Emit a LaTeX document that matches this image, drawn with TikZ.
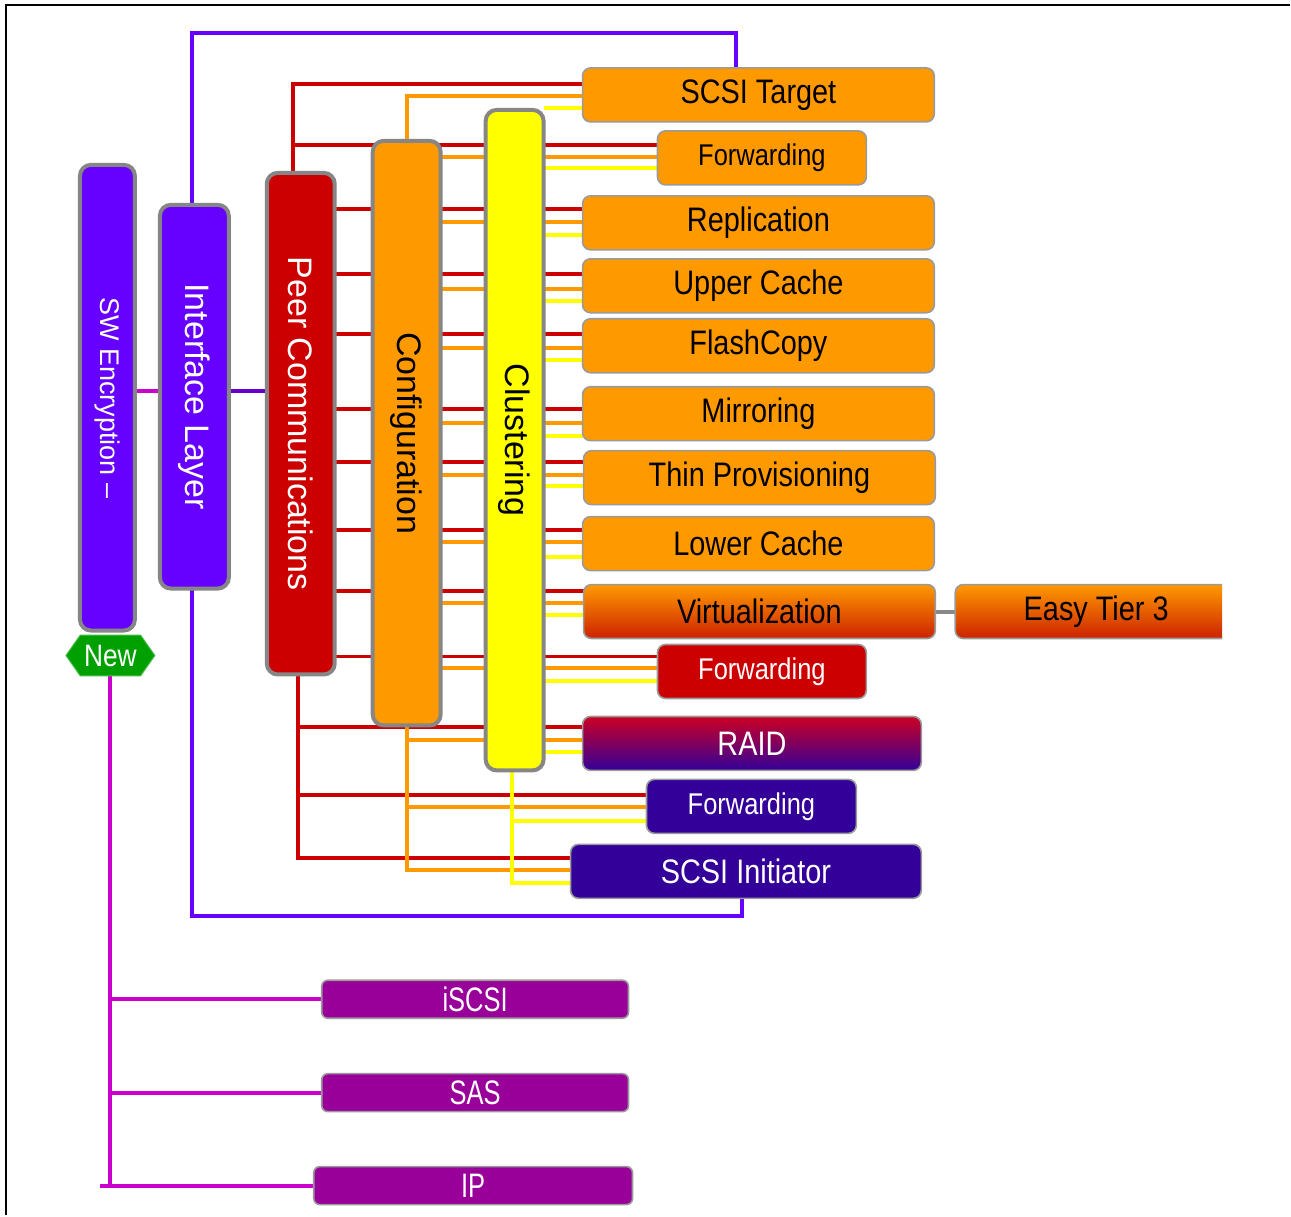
\documentclass[tikz,border=0pt]{standalone}
\usepackage{fontspec}
\usepackage{graphicx}
\setmainfont{Liberation Sans}
\newfontfamily\narrowfont[FakeStretch=0.85]{Liberation Sans}
\newfontfamily\narrowerfont[FakeStretch=0.75]{Liberation Sans}
\usetikzlibrary{calc,backgrounds,shapes.symbols}

\definecolor{barGray}{HTML}{868686}
\definecolor{boxGray}{HTML}{9A9A9A}
\definecolor{cViolet}{HTML}{6600FF}
\definecolor{cLink}{HTML}{6600CC}
\definecolor{cRed}{HTML}{CC0000}
\definecolor{cOrange}{HTML}{FF9900}
\definecolor{cYellow}{HTML}{FFFF00}
\definecolor{cIndigo}{HTML}{330099}
\definecolor{cPurple}{HTML}{990099}
\definecolor{cMagenta}{HTML}{CC00CC}
\definecolor{cGreen}{HTML}{00A000}
\definecolor{cDeepRed}{HTML}{CC2200}
\definecolor{cRaidTop}{HTML}{CC0022}
\definecolor{cLinkGray}{HTML}{888888}

\newcommand\boxfont{\narrowfont\fontsize{34}{40}\selectfont}
\newcommand\fwdfont{\narrowfont\fontsize{30}{36}\selectfont}
\newcommand\portfont{\narrowerfont\fontsize{34}{38}\selectfont}
\newcommand\barfont{\fontsize{34}{40}\selectfont}
\newcommand\vtext[1]{\rotatebox{-90}{#1}}

\begin{document}
\begin{tikzpicture}[x=1pt,y=-1pt,
  bar/.style={draw=barGray, line width=4pt, rounded corners=11pt,
    inner sep=0pt, outer sep=0pt, font=\barfont},
  box/.style={draw=boxGray, line width=1.6pt, rounded corners=8pt,
    inner sep=0pt, outer sep=0pt, minimum height=54pt, font=\boxfont},
  orangebox/.style={box, fill=cOrange, text=black},
  fwdbox/.style={box, minimum width=209pt, font=\fwdfont},
  portbox/.style={box, fill=cPurple, text=white, minimum height=38pt,
    rounded corners=6pt, font=\portfont},
  wire/.style={line width=4pt},
  rl/.style={wire, draw=cRed},
  ol/.style={wire, draw=cOrange},
  yl/.style={wire, draw=cYellow},
  vl/.style={wire, draw=cViolet},
  ml/.style={wire, draw=cMagenta},
  ll/.style={wire, draw=cLink},
  gl/.style={wire, draw=cLinkGray}]

% ---- vertical layer bars ----
\node[bar, fill=cViolet, text=white, minimum width=55pt, minimum height=466pt,
  font=\fontsize{27}{32}\selectfont] (sw) at (107.5,398) {\vtext{SW Encryption –}};
\node[bar, fill=cViolet, text=white, minimum width=69pt, minimum height=384pt]
  (intf) at (194.5,397) {\vtext{Interface Layer}};
\node[bar, fill=cRed, text=white, minimum width=68pt, minimum height=502pt]
  (peer) at (301,424) {\vtext{Peer Communications}};
\node[bar, fill=cOrange, text=black, minimum width=68pt, minimum height=585pt]
  (conf) at (407,433.5) {\vtext{Configuration}};
\node[bar, fill=cYellow, text=black, minimum width=58pt, minimum height=661pt]
  (clu) at (515,440.5) {\vtext{Clustering}};

% ---- "New" tag ----
\node[shape=signal, signal to=east and west, signal pointer angle=110,
  fill=cGreen, draw=cGreen!70!white, line width=1pt, text=white,
  minimum width=89pt, minimum height=41pt, inner sep=0pt,
  font=\narrowfont\fontsize{31}{36}\selectfont] (new) at (110.5,656) {New};

% ---- component boxes ----
\node[orangebox, minimum width=352pt] (scsit) at (759,95) {SCSI Target};
\node[orangebox, fwdbox] (fwd1) at (762.5,158) {Forwarding};
\node[orangebox, minimum width=352pt] (repl) at (759,223) {Replication};
\node[orangebox, minimum width=352pt] (upc) at (759,286) {Upper Cache};
\node[orangebox, minimum width=352pt] (flash) at (759,346) {FlashCopy};
\node[orangebox, minimum width=352pt] (mirr) at (759,414) {Mirroring};
\node[orangebox, minimum width=352pt] (thin) at (760,478) {Thin Provisioning};
\node[orangebox, minimum width=352pt] (lowc) at (759,544) {Lower Cache};
\node[box, top color=cOrange, bottom color=cDeepRed, minimum width=352pt]
  (virt) at (760,612) {Virtualization};
\begin{scope}
  \clip (940,560) rectangle (1223,660);
  \node[box, top color=cOrange, bottom color=cDeepRed, minimum width=282pt]
    (easy) at (1097,612) {Easy Tier 3};
\end{scope}
\node[box, fwdbox, fill=cRed, text=white] (fwd2) at (762.5,672) {Forwarding};
\node[box, top color=cRaidTop, bottom color=cIndigo, text=white,
  minimum width=339pt] (raid) at (752.5,744) {RAID};
\node[box, fwdbox, fill=cIndigo, text=white, minimum width=210pt]
  (fwd3) at (752,807) {Forwarding};
\node[box, fill=cIndigo, text=white, minimum width=351pt]
  (scsii) at (746.5,872) {SCSI Initiator};

% ---- protocol boxes ----
\node[portbox, minimum width=307pt] (iscsi) at (475.5,1000) {iSCSI};
\node[portbox, minimum width=307pt] (sas) at (475.5,1093.5) {SAS};
\node[portbox, minimum width=319pt] (ip) at (473.5,1186.5) {IP};

% ---- wiring, drawn behind the bars and boxes ----
\begin{scope}[on background layer]
  \fill[white] (0,0) rectangle (1291,1216);
  \draw[black, line width=2pt] (6,1216) -- (6,5) -- (1291,5);

  % tap points on the left side of every component box
  \foreach \b/\r/\o/\y in {scsit/16/28/40, fwd1/14/26/37, repl/13/26/39,
      upc/15/30/42, flash/15/29/41, mirr/22/36/49, thin/11/24/35,
      lowc/13/25/40, virt/6/18/30, fwd2/12/24/37, raid/11/24/36,
      fwd3/16/28/42, scsii/14/26/39} {
    \coordinate (\b-r) at ($(\b.north west)+(0,\r)$);
    \coordinate (\b-o) at ($(\b.north west)+(0,\o)$);
    \coordinate (\b-y) at ($(\b.north west)+(0,\y)$);
  }

  % Peer Communications (red)
  \coordinate (ptop) at ($(peer.north)+(-8,0)$);
  \coordinate (pbot) at ($(peer.south)+(-3,0)$);
  \draw[rl] (ptop) |- (scsit-r);
  \draw[rl] (ptop |- fwd1-r) -- (fwd1-r);
  \foreach \b in {repl,upc,flash,mirr,thin,lowc,virt,fwd2}
    \draw[rl] (peer.east |- \b-r) -- (\b-r);
  \draw[rl] (pbot) |- (scsii-r);
  \draw[rl] (pbot |- raid-r) -- (raid-r);
  \draw[rl] (pbot |- fwd3-r) -- (fwd3-r);

  % Configuration (orange)
  \draw[ol] (conf.north) |- (scsit-o);
  \foreach \b in {fwd1,repl,upc,flash,mirr,thin,lowc,virt,fwd2}
    \draw[ol] (conf.east |- \b-o) -- (\b-o);
  \draw[ol] (conf.south) |- (scsii-o);
  \draw[ol] (conf.south |- raid-o) -- (raid-o);
  \draw[ol] (conf.south |- fwd3-o) -- (fwd3-o);

  % Clustering (yellow)
  \foreach \b in {scsit,fwd1,repl,upc,flash,mirr,thin,lowc,virt,fwd2,raid}
    \draw[yl] (clu.east |- \b-y) -- (\b-y);
  \coordinate (cbot) at ($(clu.south)+(-3,0)$);
  \draw[yl] (cbot) |- (scsii-y);
  \draw[yl] (cbot |- fwd3-y) -- (fwd3-y);

  % Interface Layer (violet) frames the stack
  \coordinate (itop) at ($(intf.north)+(-2,0)$);
  \coordinate (ibot) at ($(intf.south)+(-2,0)$);
  \coordinate (stop) at ($(scsit.north)+(-22,0)$);
  \coordinate (sbot) at ($(scsii.south)+(-4,0)$);
  \coordinate (vtop) at ($(stop)+(0,-35)$);
  \coordinate (vbot) at ($(sbot)+(0,18)$);
  \draw[vl] (itop) |- (vtop) -- (stop);
  \draw[vl] (ibot) |- (vbot) -- (sbot);

  % side links between the layer bars
  \coordinate (lnk) at (0,391);
  \draw[ml] (sw.east |- lnk) -- (intf.west |- lnk);
  \draw[ll] (intf.east |- lnk) -- (peer.west |- lnk);

  % Virtualization to Easy Tier
  \draw[gl] (virt.east) -- (easy.west);

  % SW Encryption to the protocols
  \coordinate (mstub) at ($(new.south |- ip.west)+(-10,0)$);
  \draw[ml] (new.south) |- (ip.west);
  \draw[ml] (mstub) -- (new.south |- ip.west);
  \draw[ml] (new.south |- iscsi.west) -- (iscsi.west);
  \draw[ml] (new.south |- sas.west) -- (sas.west);
\end{scope}
\end{tikzpicture}
\end{document}
